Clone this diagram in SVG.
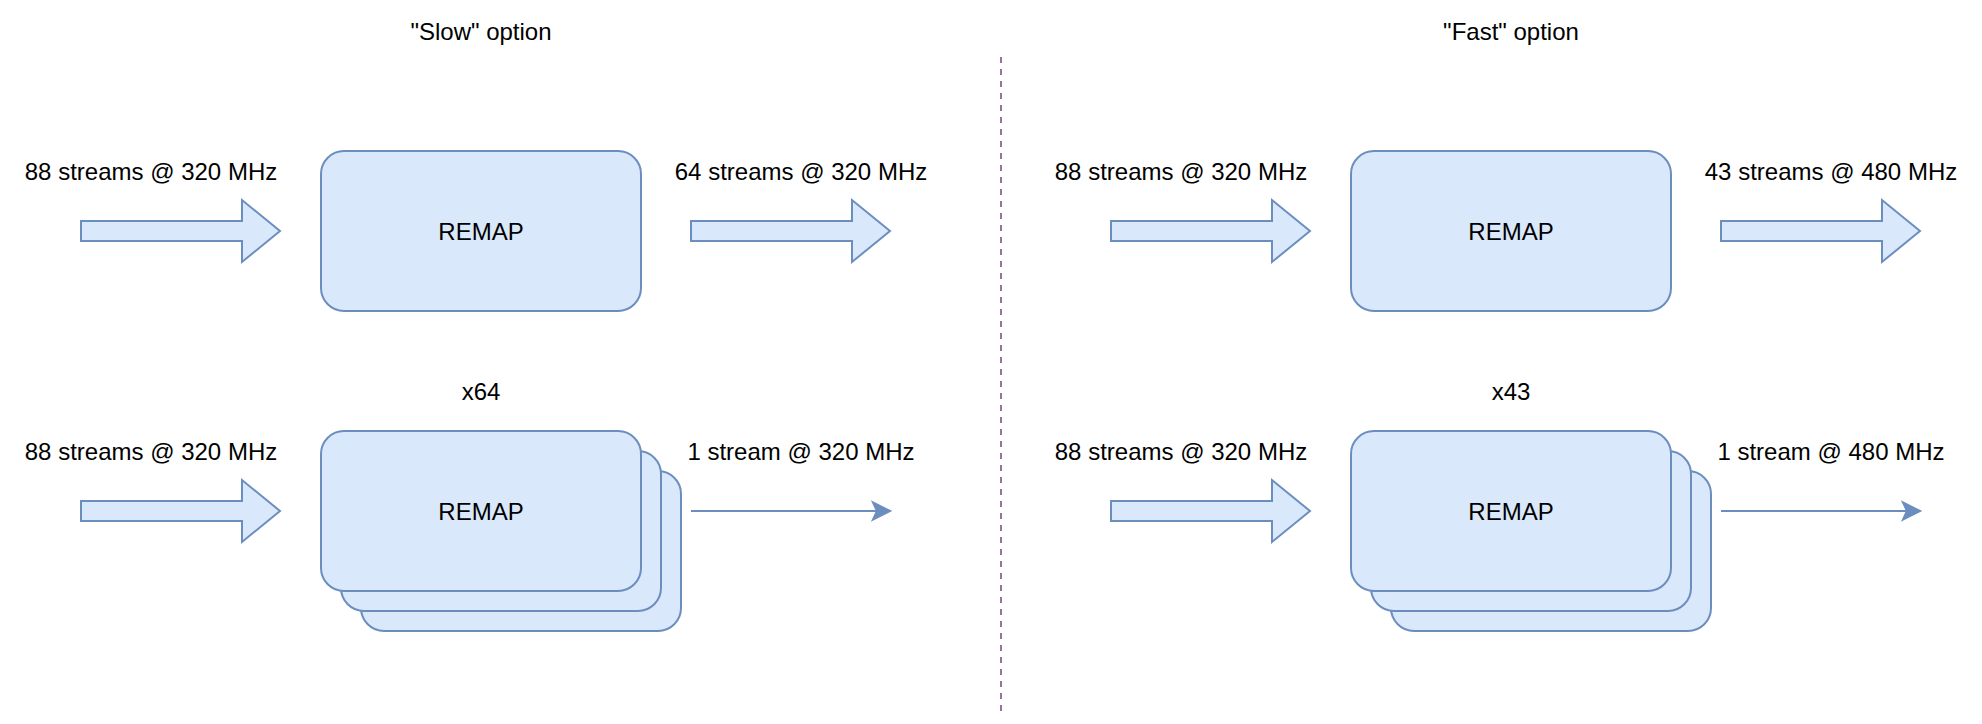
<svg xmlns="http://www.w3.org/2000/svg" width="1982" height="724" viewBox="0 0 1982 724">
<style>
.box{fill:#dae8fc;stroke:#6c8ebf;stroke-width:2}
.arr{fill:#dae8fc;stroke:#6c8ebf;stroke-width:2;stroke-linejoin:miter}
.ln{fill:none;stroke:#6c8ebf;stroke-width:2}
.head{fill:#6c8ebf;stroke:#6c8ebf;stroke-width:2}
.sep{fill:none;stroke:#9673a6;stroke-width:2;stroke-dasharray:6 6}
text{font-family:"Liberation Sans",Arial,Helvetica,sans-serif;font-size:24px;fill:#000;text-anchor:middle}
</style>
<defs>
<polygon id="fat" points="0,-10 161,-10 161,-31 199,0 161,31 161,10 0,10"/>
</defs>
<rect width="1982" height="724" fill="#fff"/>
<g id="titles">
<text x="481" y="40">"Slow" option</text>
<text x="1511" y="40">"Fast" option</text>
</g>
<g id="separator"><line class="sep" x1="1001" y1="57" x2="1001" y2="711"/></g>
<g id="slow-top">
<text x="151" y="180">88 streams @ 320 MHz</text>
<rect class="box" x="321" y="151" width="320" height="160" rx="23" ry="23"/>
<text x="481" y="240">REMAP</text>
<text x="801" y="180">64 streams @ 320 MHz</text>
</g>
<g id="slow-bottom">
<text x="481" y="400">x64</text>
<text x="151" y="460">88 streams @ 320 MHz</text>
<rect class="box" x="361" y="471" width="320" height="160" rx="23" ry="23"/>
<rect class="box" x="341" y="451" width="320" height="160" rx="23" ry="23"/>
<rect class="box" x="321" y="431" width="320" height="160" rx="23" ry="23"/>
<text x="481" y="520">REMAP</text>
<text x="801" y="460">1 stream @ 320 MHz</text>
</g>
<g id="fast-top">
<text x="1181" y="180">88 streams @ 320 MHz</text>
<rect class="box" x="1351" y="151" width="320" height="160" rx="23" ry="23"/>
<text x="1511" y="240">REMAP</text>
<text x="1831" y="180">43 streams @ 480 MHz</text>
</g>
<g id="fast-bottom">
<text x="1511" y="400">x43</text>
<text x="1181" y="460">88 streams @ 320 MHz</text>
<rect class="box" x="1391" y="471" width="320" height="160" rx="23" ry="23"/>
<rect class="box" x="1371" y="451" width="320" height="160" rx="23" ry="23"/>
<rect class="box" x="1351" y="431" width="320" height="160" rx="23" ry="23"/>
<text x="1511" y="520">REMAP</text>
<text x="1831" y="460">1 stream @ 480 MHz</text>
</g>
<g id="connectors">
<use href="#fat" class="arr" x="81" y="231"/>
<use href="#fat" class="arr" x="691" y="231"/>
<use href="#fat" class="arr" x="81" y="511"/>
<line class="ln" x1="691" y1="511" x2="878" y2="511"/>
<path class="head" d="M890,511 L873,502.5 L877,511 L873,519.5 Z"/>
<use href="#fat" class="arr" x="1111" y="231"/>
<use href="#fat" class="arr" x="1721" y="231"/>
<use href="#fat" class="arr" x="1111" y="511"/>
<line class="ln" x1="1721" y1="511" x2="1908" y2="511"/>
<path class="head" d="M1920,511 L1903,502.5 L1907,511 L1903,519.5 Z"/>
</g>
</svg>
